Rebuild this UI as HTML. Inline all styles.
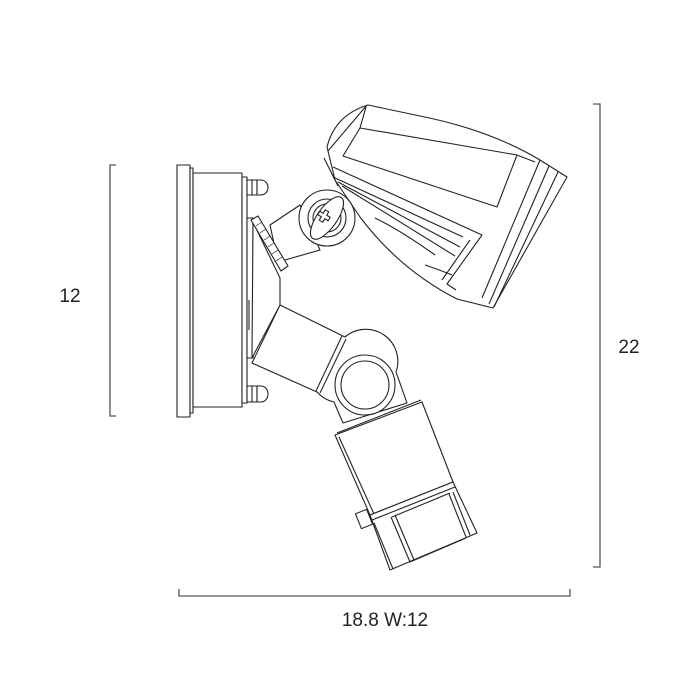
<!DOCTYPE html>
<html><head><meta charset="utf-8"><style>
html,body{margin:0;padding:0;background:#fff;}
svg{display:block}
text{font-family:"Liberation Sans",sans-serif;font-size:19px;fill:#222}
</style></head><body>
<svg width="700" height="700" viewBox="0 0 700 700" xmlns="http://www.w3.org/2000/svg">
<g fill="none" stroke="#555" stroke-width="1.3">
<polyline points="116,165 110,165 110,416 116,416"/>
<polyline points="593,104 600,104 600,567 593,567"/>
<polyline points="179,589 179,596 570,596 570,589"/>
</g>
<text x="70" y="302" text-anchor="middle">12</text>
<text x="629" y="353" text-anchor="middle">22</text>
<text x="385" y="626" text-anchor="middle">18.8 W:12</text>

<g fill="#fff" stroke="#222" stroke-width="1.1" stroke-linejoin="round">
<!-- lower arm with circle end -->
<path d="M280,305 L345,337 A32,32 0 0 1 396,372 L407,403 L343,423 L334,402 A32,32 0 0 1 317,392 L252,363 Z"/>
<line x1="342" y1="336" x2="316" y2="391"/>
<line x1="346" y1="339" x2="320" y2="393"/>
<circle cx="365" cy="385" r="30"/>
<circle cx="365" cy="385" r="24"/>
<!-- lower box -->
<polygon points="335,435 422,402 453,482 370,515"/>
<line x1="339" y1="437" x2="374" y2="514"/>
<line x1="337" y1="433" x2="421" y2="400"/>
<polygon points="370,515 453,482 477,533 390,570"/>
<line x1="372" y1="520" x2="455" y2="487"/>
<line x1="374" y1="523" x2="393" y2="569"/>
<line x1="391" y1="517" x2="410" y2="562"/>
<line x1="395" y1="515" x2="414" y2="560"/>
<line x1="449" y1="494" x2="466" y2="537"/>
<line x1="453" y1="492" x2="470" y2="535"/>
<line x1="410" y1="562" x2="466" y2="538"/>
<line x1="392" y1="517" x2="450" y2="493"/>
<rect x="358" y="511" width="12" height="16" transform="rotate(-22 364 519)"/>

<!-- backplate -->
<rect x="177" y="165" width="13" height="252"/>
<rect x="190" y="168" width="3" height="245"/>
<rect x="193" y="173" width="49" height="234"/>
<rect x="242" y="177" width="5" height="226"/>
<rect x="247" y="218" width="6" height="140"/>
<line x1="249" y1="300" x2="249" y2="330"/>
<rect x="247" y="180" width="10" height="15"/>
<path d="M257,180 h4 a7,7.5 0 0 1 0,15 h-4 z"/>
<line x1="252" y1="180" x2="252" y2="195"/>
<rect x="247" y="386" width="10" height="16"/>
<path d="M257,386 h4 a7,8 0 0 1 0,16 h-4 z"/>
<line x1="252" y1="386" x2="252" y2="402"/>
<polygon points="253,222 280,278 280,305 252,358"/>
<polygon points="270,225 300,205 320,250 278,262"/>

<!-- upper head -->
<path d="M327,147 Q335,115 368,105 L420,116 Q490,130 540,160 L567,177 L493,308 L457,299 Q400,270 360,217 L335,180 Z"/>
<line x1="540" y1="160" x2="482" y2="298"/>
<line x1="549" y1="166" x2="489" y2="304"/>
<line x1="558" y1="172" x2="494" y2="307"/>
<path d="M328,151 L367,105"/>
<polygon points="360,128 517,155 497,207 343,156"/>
<line x1="366" y1="107" x2="360" y2="128"/>
<line x1="517" y1="155" x2="535" y2="162"/>
<line x1="333" y1="167" x2="482" y2="235"/>
<line x1="333" y1="177" x2="463" y2="237"/>
<line x1="338" y1="182" x2="460" y2="247"/>
<line x1="342" y1="186" x2="455" y2="256"/>
<polyline points="482,235 447,284 456,290"/>
<line x1="470" y1="240" x2="442" y2="280"/>
<path d="M375,218 Q400,230 435,255"/>
<path d="M425,265 Q440,270 452,275"/>
<line x1="324" y1="158" x2="338" y2="186"/>

<polygon points="251,220 258,216 288,266 281,271"/>
<g stroke-width="0.7">
<line x1="256" y1="226" x2="262" y2="222"/><line x1="260" y1="233" x2="266" y2="229"/>
<line x1="264" y1="240" x2="270" y2="236"/><line x1="268" y1="247" x2="274" y2="243"/>
<line x1="272" y1="254" x2="278" y2="250"/><line x1="276" y1="261" x2="282" y2="257"/>
</g>
<circle cx="327" cy="218" r="28"/>
<circle cx="327" cy="218" r="19"/>
<circle cx="327" cy="218" r="14"/>
<ellipse cx="327" cy="218" rx="10" ry="25" transform="rotate(35 327 218)"/>
<path d="M322,210 h4 v4 h4 v4 h-4 v4 h-4 v-4 h-4 v-4 h4 z" transform="rotate(30 324 216)"/>
</g>
</svg>
</body></html>
